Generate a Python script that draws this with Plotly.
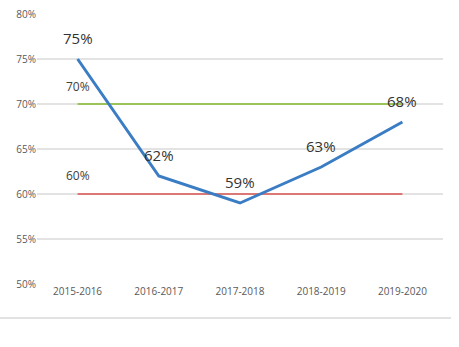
import plotly.graph_objects as go

categories = ["2015-2016", "2016-2017", "2017-2018", "2018-2019", "2019-2020"]
rates = [75, 62, 59, 63, 68]
target_high = [70, 70, 70, 70, 70]
target_low = [60, 60, 60, 60, 60]
y_ticks = [50, 55, 60, 65, 70, 75, 80]

fig = go.Figure()
fig.add_trace(go.Scatter(x=categories, y=target_high, mode="lines",
                         line=dict(color="#9BC35A", width=2), hoverinfo="skip"))
fig.add_trace(go.Scatter(x=categories, y=target_low, mode="lines",
                         line=dict(color="#D9534F", width=1.5), hoverinfo="skip"))
fig.add_trace(go.Scatter(x=categories, y=rates, mode="lines",
                         line=dict(color="#3B7DC4", width=3)))

for c, v in zip(categories, rates):
    fig.add_annotation(x=c, y=v, text=f"{v}%", showarrow=False, yshift=21,
                       font=dict(size=15, color="#333333", family="Open Sans"))

fig.add_annotation(x=categories[0], y=target_high[0], text=f"{target_high[0]}%",
                   showarrow=False, yshift=18,
                   font=dict(size=12, color="#404040", family="Open Sans"))
fig.add_annotation(x=categories[0], y=target_low[0], text=f"{target_low[0]}%",
                   showarrow=False, yshift=19,
                   font=dict(size=12, color="#404040", family="Open Sans"))

fig.add_shape(type="line", xref="paper", yref="paper",
              x0=-0.091, x1=1.0197, y0=-0.126, y1=-0.126,
              line=dict(color="#D9D9D9", width=1.5))

fig.update_layout(
    width=459, height=347,
    margin=dict(l=37, r=16, t=14, b=63, autoexpand=False),
    plot_bgcolor="white", paper_bgcolor="white",
    showlegend=False,
    font=dict(family="Open Sans", color="#595959", size=10),
)
fig.update_xaxes(range=[-0.5, 4.5], showgrid=False, zeroline=False, showline=False,
                 ticks="", tickfont=dict(size=10, color="#595959"), automargin=False)
fig.update_yaxes(range=[50, 80], tickmode="array", tickvals=y_ticks,
                 ticktext=[f"{t}%" for t in y_ticks],
                 showgrid=True, gridcolor="#E3E3E3", gridwidth=1.5,
                 zeroline=False, showline=False, ticks="", automargin=False,
                 tickfont=dict(size=10, color="#595959"))

fig.write_html("out.html")
